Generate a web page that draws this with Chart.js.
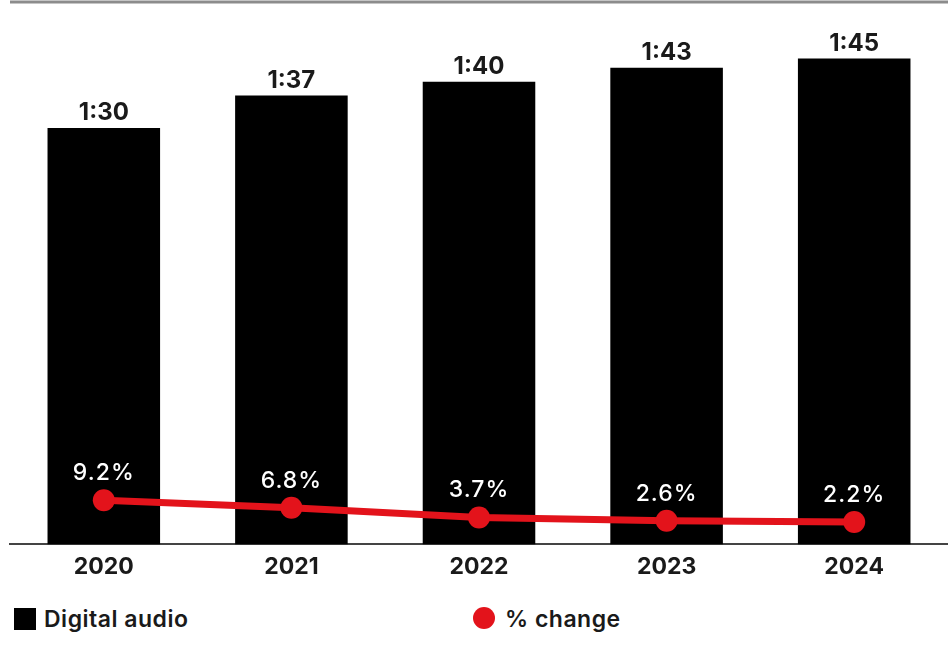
<!DOCTYPE html>
<html>
<head>
<meta charset="utf-8">
<script src="https://cdn.jsdelivr.net/npm/chart.js@4.4.1/dist/chart.umd.min.js"></script>
<style>
  html, body { margin: 0; padding: 0; background: #fff; width: 948px; height: 657px; overflow: hidden; font-family: Inter, "Open Sans", sans-serif; }
  #wrap { position: absolute; left: 0; top: 0; width: 948px; height: 590px; }
  .leg { position: absolute; font: 600 23px Inter, sans-serif; letter-spacing: 0.5px; color: #1a1a1a; line-height: 22px; white-space: nowrap; }
  .sq { position: absolute; width: 22px; height: 22px; background: #000; }
  .dot { position: absolute; width: 22px; height: 22px; border-radius: 50%; background: #e3131b; }
</style>
</head>
<body>
<div id="wrap"><canvas id="c"></canvas></div>
<div class="sq" style="left:14px; top:608px;"></div>
<div class="leg" id="leg1" style="left:44px; top:608px;"></div>
<div class="dot" style="left:473px; top:607px;"></div>
<div class="leg" id="leg2" style="left:505px; top:608px;"></div>
<script>
const categories = ["2020", "2021", "2022", "2023", "2024"];
const audioMinutes = [90, 97, 100, 103, 105];
const pctChange = [9.2, 6.8, 3.7, 2.6, 2.2];
const seriesNames = ["Digital audio", "% change"];

document.getElementById('leg1').textContent = seriesNames[0];
document.getElementById('leg2').textContent = seriesNames[1];

function fmtTime(m) {
  const h = Math.floor(m / 60), mm = m % 60;
  return h + ':' + String(mm).padStart(2, '0');
}

const labelPlugin = {
  id: 'labels',
  beforeDraw(chart) {
    const ctx = chart.ctx, a = chart.chartArea;
    ctx.save();
    ctx.strokeStyle = '#8c8c8c';
    ctx.lineWidth = 3;
    ctx.beginPath();
    ctx.moveTo(a.left, 2);
    ctx.lineTo(chart.width, 2);
    ctx.stroke();
    ctx.restore();
  },
  afterDatasetsDraw(chart) {
    const ctx = chart.ctx;
    ctx.save();
    ctx.textAlign = 'center';
    ctx.textBaseline = 'alphabetic';
    const barMeta = chart.getDatasetMeta(0);
    ctx.font = '700 24px Inter, sans-serif';
    ctx.fillStyle = '#1a1a1a';
    barMeta.data.forEach((el, i) => {
      ctx.fillText(fmtTime(audioMinutes[i]), el.x, el.y - 8);
    });
    const lineMeta = chart.getDatasetMeta(1);
    ctx.font = '500 23px Inter, sans-serif';
    try { ctx.letterSpacing = '1px'; } catch (e) {}
    ctx.fillStyle = '#ffffff';
    lineMeta.data.forEach((el, i) => {
      ctx.fillText(pctChange[i].toFixed(1) + '%', el.x, el.y - 20);
    });
    ctx.restore();
  }
};

new Chart(document.getElementById('c'), {
  data: {
    labels: categories,
    datasets: [
      {
        type: 'bar',
        label: seriesNames[0],
        data: audioMinutes,
        backgroundColor: '#000000',
        barPercentage: 0.6,
        categoryPercentage: 1.0,
        yAxisID: 'y',
        order: 2
      },
      {
        type: 'line',
        label: seriesNames[1],
        data: pctChange,
        borderColor: '#e3131b',
        backgroundColor: '#e3131b',
        borderWidth: 7,
        pointRadius: 11,
        pointHoverRadius: 11,
        pointBorderWidth: 0,
        tension: 0,
        clip: false,
        yAxisID: 'y2',
        order: 1
      }
    ]
  },
  options: {
    responsive: true,
    maintainAspectRatio: false,
    animation: false,
    layout: { autoPadding: false, padding: { top: 3, left: 10, right: 0, bottom: 0 } },
    plugins: { legend: { display: false }, tooltip: { enabled: false } },
    scales: {
      x: {
        grid: { display: false, drawTicks: false },
        border: { display: true, color: '#444444', width: 2 },
        ticks: { color: '#1a1a1a', font: { family: 'Inter', size: 23, weight: '700' }, padding: 9 }
      },
      y: { display: false, min: 0, max: 117 },
      y2: { display: false, min: -5, max: 169.5, position: 'right' }
    }
  },
  plugins: [labelPlugin]
});
</script>
</body>
</html>
